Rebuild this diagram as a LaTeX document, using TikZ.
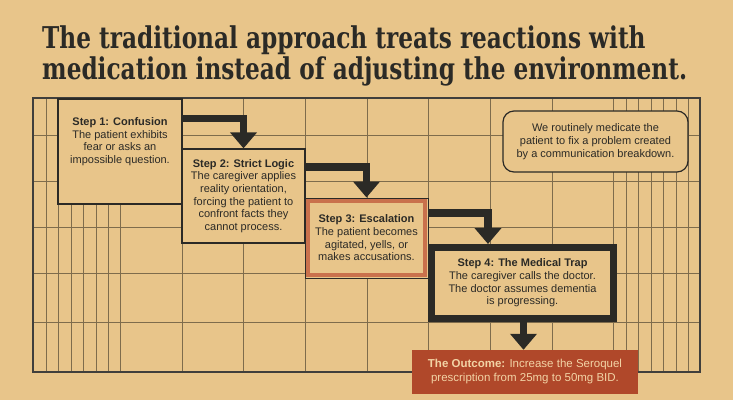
\documentclass[tikz,border=0pt]{standalone}
\usepackage{fontspec}
\setmainfont{Liberation Sans}
\newfontfamily\titlefont{DejaVu Serif Condensed}[FakeStretch=0.86]
\usetikzlibrary{arrows.meta,calc,positioning}
\definecolor{paper}{HTML}{E8C58A}
\definecolor{ink}{HTML}{2B2A26}
\definecolor{gridbrown}{HTML}{7E6C4C}
\definecolor{rust}{HTML}{C9714C}
\definecolor{outcomefill}{HTML}{B0482A}
\definecolor{outcometext}{HTML}{F2D3A5}
\tikzset {
  >=Stealth,
  every node/.style={font=\fontsize{11}{12.7}\selectfont, text=ink},
  gridline/.style={draw=gridbrown, line width=.5pt},
  frameline/.style={draw=ink!90, line width=1.3pt},
  stepbox/.style={draw=ink, fill=paper, line width=1.2pt, inner sep=0pt},
  flow/.style={draw=ink, line width=7.5pt, -{Triangle[width=26pt,length=16pt]}},
}

\begin{document}
\begin{tikzpicture}[x=1pt,y=-1pt]
          \fill[paper] (0,0) rectangle (733,400);
          \useasboundingbox (0,0) rectangle (733,400);
          \node[anchor=base west, align=left, inner sep=0pt,
                font=\titlefont\bfseries\fontsize{30}{29}\selectfont] (title) at (42,79)
                {The traditional approach treats reactions with\\
                 medication instead of adjusting the environment.};
          % grid
          \foreach \gx in {46,58,71,83,96,108,120,182,243,305,367,428,490,552,613,626,638,651,663,676,688}
            \draw[gridline] (\gx,98) -- (\gx,372);
          \foreach \gy in {135,181,227,273,322}
            \draw[gridline] (33,\gy) -- (700,\gy);
          \draw[frameline] (33,98) rectangle (700,372);
          % steps
          \node[stepbox, minimum width=124pt, minimum height=105pt] (s1) at (120,151.5) {};
          \node[anchor=north, align=center, inner sep=0pt] (s1text) at ([yshift=-19pt]s1.north)
                {\textbf{Step 1: Confusion}\\The patient exhibits\\fear or asks an\\impossible question.};
          \node[stepbox, minimum width=123pt, minimum height=94pt, align=center] (s2) at (243.5,196)
                {\textbf{Step 2: Strict Logic}\\The caregiver applies\\reality orientation,\\forcing the patient to\\confront facts they\\cannot process.};
          \node[stepbox, line width=1pt, minimum width=123pt, minimum height=80pt] (s3) at (366.5,238) {};
          \draw[rust, line width=4pt] ([shift={(3.4pt,-3.4pt)}]s3.north west) rectangle ([shift={(-3.4pt,3.4pt)}]s3.south east);
          \node[align=center, inner sep=0pt] (s3text) at (s3.center)
                {\textbf{Step 3: Escalation}\\The patient becomes\\agitated, yells, or\\makes accusations.};
          \node[stepbox, line width=7pt, minimum width=182pt, minimum height=71pt, align=center] (s4) at (522.5,283)
                {\textbf{Step 4: The Medical Trap}\\The caregiver calls the doctor.\\The doctor assumes dementia\\is progressing.};
          \node[fill=outcomefill, minimum width=226pt, minimum height=44pt, align=center, inner sep=0pt,
                text=outcometext, font=\fontsize{11.5}{14}\selectfont] (outcome) at (525,372)
                {\textbf{The Outcome:} Increase the Seroquel\\prescription from 25mg to 50mg BID.};
          \node[stepbox, rounded corners=11pt, minimum width=185pt, minimum height=61pt, align=center] (note) at (595.5,141.5)
                {We routinely medicate the\\patient to fix a problem created\\by a communication breakdown.};
          % arrows
          \draw[flow] ([yshift=-20pt]s1.north east) -| (s2.north);
          \draw[flow] ([yshift=-18.5pt]s2.north east) -| (s3.north);
          \draw[flow] ([yshift=-15.5pt]s3.north east) -| ([xshift=-34.5pt]s4.north);
          \draw[flow] ([xshift=1pt]s4.south) -- ([xshift=-1.5pt]outcome.north);
        \end{tikzpicture}
\end{document}
